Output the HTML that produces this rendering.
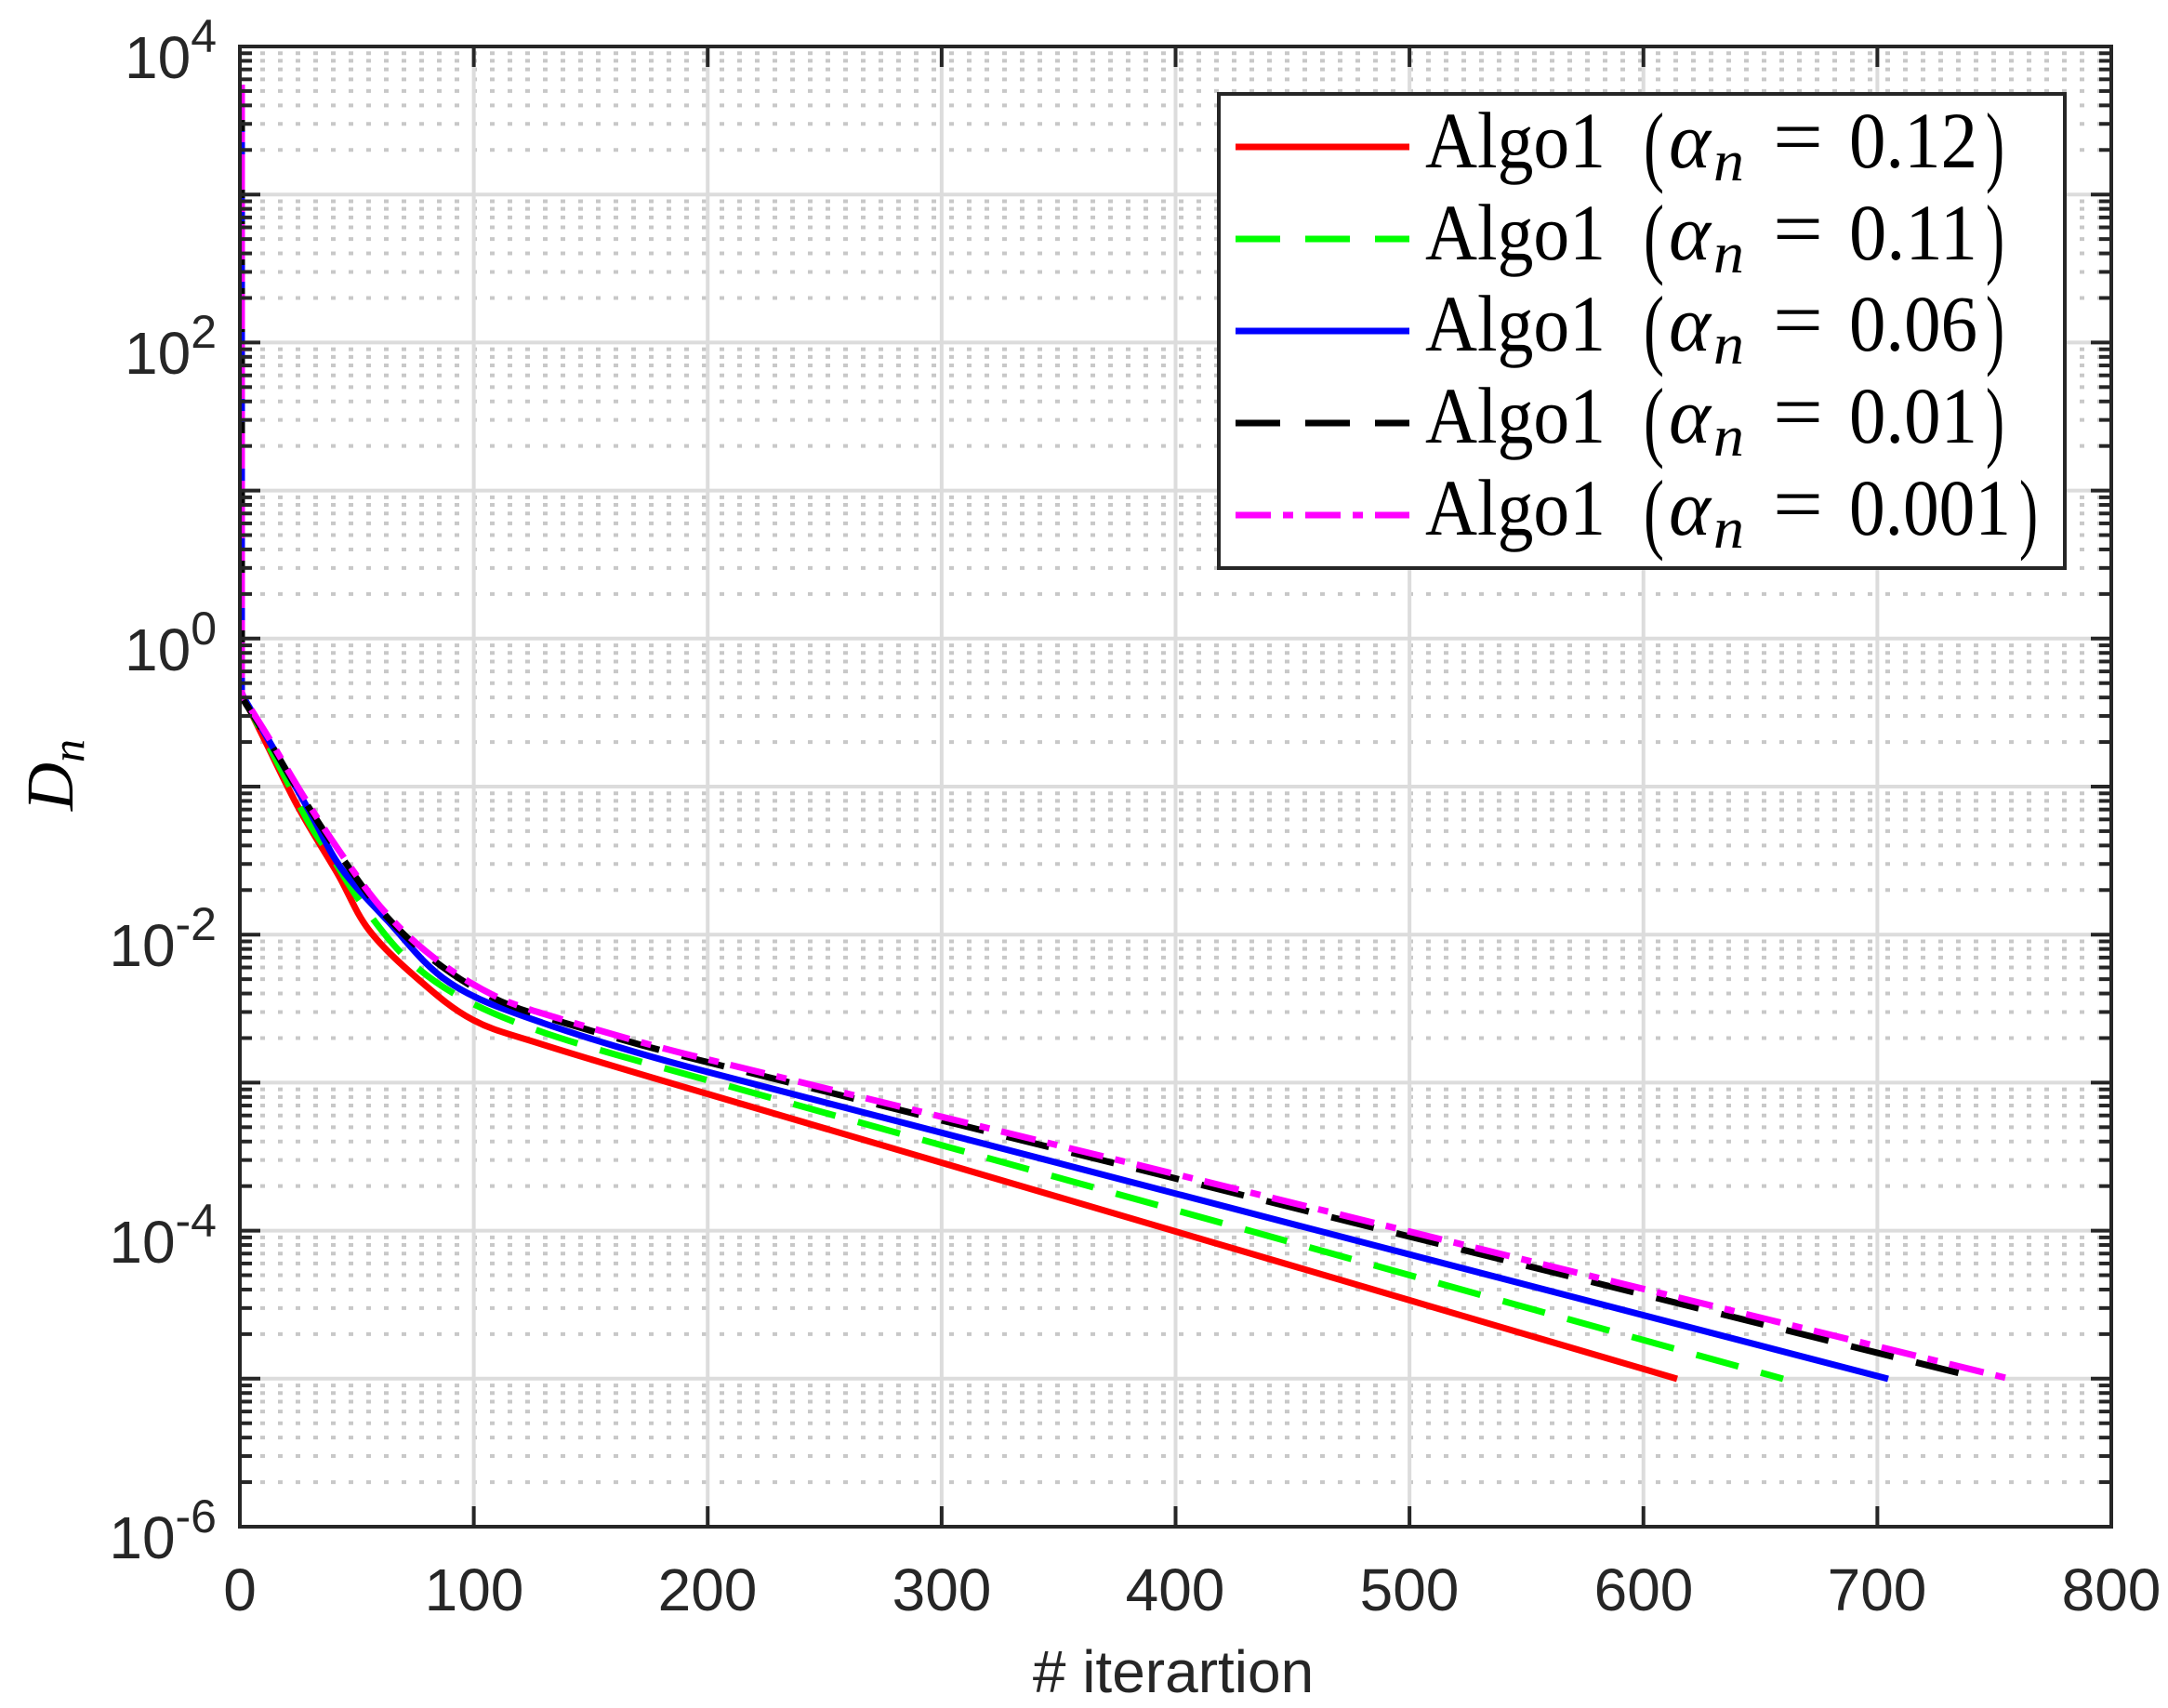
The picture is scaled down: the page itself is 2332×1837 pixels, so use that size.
<!DOCTYPE html>
<html><head><meta charset="utf-8">
<style>
html,body{margin:0;padding:0;background:#fff;}
svg{display:block;}
.tk{font-family:"Liberation Sans",Arial,sans-serif;font-size:64px;fill:#262626;}
.lg{font-family:"Liberation Serif","DejaVu Serif",serif;font-size:86px;fill:#000;}
</style></head>
<body>
<svg id="s" width="2332" height="1837" viewBox="0 0 2332 1837" xmlns="http://www.w3.org/2000/svg">
<rect width="2332" height="1837" fill="#fff"/>
<g id="grid"></g>
<g id="curves" fill="none" stroke-width="7" stroke-linejoin="round"></g>
<g id="axes"></g>
<g class="tk" text-anchor="end">
<text x="233" y="84">10<tspan dy="-28" font-size="50">4</tspan></text>
<text x="233" y="402">10<tspan dy="-28" font-size="50">2</tspan></text>
<text x="233" y="721">10<tspan dy="-28" font-size="50">0</tspan></text>
<text x="233" y="1039">10<tspan dy="-28" font-size="50">-2</tspan></text>
<text x="233" y="1358">10<tspan dy="-28" font-size="50">-4</tspan></text>
<text x="233" y="1676">10<tspan dy="-28" font-size="50">-6</tspan></text>
</g>
<g class="tk" text-anchor="middle">
<text x="258" y="1732">0</text>
<text x="510" y="1732">100</text>
<text x="761" y="1732">200</text>
<text x="1013" y="1732">300</text>
<text x="1264" y="1732">400</text>
<text x="1516" y="1732">500</text>
<text x="1768" y="1732">600</text>
<text x="2019" y="1732">700</text>
<text x="2271" y="1732">800</text>
</g>
<text class="tk" x="1262" y="1820" text-anchor="middle" font-size="66">#&#160;iterartion</text>
<text transform="translate(78,872) rotate(-90)" font-family="Liberation Serif,serif" font-style="italic" font-size="72" fill="#000">D<tspan font-size="50" dy="12">n</tspan></text>
<rect x="1311" y="101" width="910" height="510" fill="#fff" stroke="#262626" stroke-width="4"/>
<g stroke-width="7" fill="none">
<line x1="1329" y1="158" x2="1516" y2="158" stroke="#ff0000"/>
<line x1="1329" y1="257" x2="1516" y2="257" stroke="#00ff00" stroke-dasharray="48 27"/>
<line x1="1329" y1="356" x2="1516" y2="356" stroke="#0000ff"/>
<line x1="1329" y1="455" x2="1516" y2="455" stroke="#000" stroke-dasharray="48 27"/>
<line x1="1329" y1="554" x2="1516" y2="554" stroke="#ff00ff" stroke-dasharray="38 13 11 13"/>
</g>
<g class="lg" id="leg"></g>
</svg>
<script>
(function(){
var NS="http://www.w3.org/2000/svg";
function el(p,t,a){var e=document.createElementNS(NS,t);for(var k in a)e.setAttribute(k,a[k]);p.appendChild(e);return e;}
var L=258,R=2271,T=50,B=1642,dec=(B-T)/10;
function Y(l){return T+(4-l)*dec;}
function X(v){return L+v*(R-L)/800;}
var g=document.getElementById('grid');
for(var d=-6;d<4;d++){for(var m=2;m<=9;m++){var y=Y(d+Math.log10(m));
el(g,'line',{x1:280,y1:y,x2:R-4,y2:y,stroke:'#c8c8c8','stroke-width':4,'stroke-dasharray':'5 14'});}}
for(var d=-5;d<4;d++){var y=Y(d);el(g,'line',{x1:L,y1:y,x2:R,y2:y,stroke:'#dcdcdc','stroke-width':4});}
for(var v=100;v<800;v+=100){var x=X(v);el(g,'line',{x1:x,y1:T,x2:x,y2:B,stroke:'#dcdcdc','stroke-width':4});}
function cr(pts){var s='';for(var i=0;i<pts.length-1;i++){var p0=pts[Math.max(i-1,0)],p1=pts[i],p2=pts[i+1],p3=pts[Math.min(i+2,pts.length-1)];
var c1=[p1[0]+(p2[0]-p0[0])/6,p1[1]+(p2[1]-p0[1])/6],c2=[p2[0]-(p3[0]-p1[0])/6,p2[1]-(p3[1]-p1[1])/6];
s+=' C'+c1[0]+','+c1[1]+' '+c2[0]+','+c2[1]+' '+p2[0]+','+p2[1];}return s;}
var cg=document.getElementById('curves');
function curve(pts,end,col,dash,dy){dy=dy||0;
var p=pts.map(function(q){return [q[0],q[1]+dy];});
p.push([end[0],end[1]+dy]);
// catmull-rom through early points, with last (end) as tangent guide only
var d='M260,'+(91+dy)+' L260,745 L'+p[0][0]+','+p[0][1];
var s='';for(var i=0;i<p.length-2;i++){var p0=p[Math.max(i-1,0)],p1=p[i],p2=p[i+1],p3=p[i+2];
var f3=(i+2==p.length-1)?(p2[0]-p1[0])/(p3[0]-p2[0]):1;
var c1=[p1[0]+(p2[0]-p0[0])/6,p1[1]+(p2[1]-p0[1])/6];
var c2=(i+2==p.length-1)?[p2[0]-(p3[0]-p2[0])*f3/3,p2[1]-(p3[1]-p2[1])*f3/3]:[p2[0]-(p3[0]-p1[0])/6,p2[1]-(p3[1]-p1[1])/6];
s+=' C'+c1[0]+','+c1[1]+' '+c2[0]+','+c2[1]+' '+p2[0]+','+p2[1];}
d+=s+' L'+p[p.length-1][0]+','+p[p.length-1][1];
var a={d:d,stroke:col};if(dash)a['stroke-dasharray']=dash;el(cg,'path',a);}
curve([[262,750],[286.7,800],[321.7,870],[363.3,940],[396.7,1000],[450,1053.3],[508.3,1096.7],[583.3,1123.3],[750,1173.3]],[1804,1483],'#ff0000');
curve([[262,750],[300,823.3],[333.3,886.7],[360,926.7],[390,973.3],[436.7,1030],[496.7,1073.3],[583.3,1110],[706.7,1146.7]],[1918,1483],'#00ff00','47 25');
curve([[262,750],[300,815],[333.3,873.3],[366.7,933.3],[416.7,990],[483.3,1056.7],[583.3,1100],[750,1150]],[2031,1483],'#0000ff');
var bm=[[262,750],[290,795],[326.7,856.7],[368.3,920],[413.3,980],[466.7,1030],[530,1070],[600,1095],[743.3,1135]];
curve(bm,[2116,1476],'#000000','47 25',3);
curve(bm,[2162,1483],'#ff00ff','38 13 11 13',0);
var ax=document.getElementById('axes');
var c='#262626';
for(var d=-6;d<4;d++){for(var m=2;m<=9;m++){var y=Y(d+Math.log10(m));
el(ax,'line',{x1:L,y1:y,x2:L+13,y2:y,stroke:c,'stroke-width':4});el(ax,'line',{x1:R,y1:y,x2:R-13,y2:y,stroke:c,'stroke-width':4});}}
for(var d=-6;d<=4;d++){var y=Y(d);el(ax,'line',{x1:L,y1:y,x2:L+22,y2:y,stroke:c,'stroke-width':4});el(ax,'line',{x1:R,y1:y,x2:R-22,y2:y,stroke:c,'stroke-width':4});}
for(var v=0;v<=800;v+=100){var x=X(v);el(ax,'line',{x1:x,y1:T,x2:x,y2:T+22,stroke:c,'stroke-width':4});el(ax,'line',{x1:x,y1:B,x2:x,y2:B-22,stroke:c,'stroke-width':4});}
el(ax,'rect',{x:L,y:T,width:R-L,height:B-T,fill:'none',stroke:c,'stroke-width':4});
var lg=document.getElementById('leg');
var rows=[['0.12',2127,2136],['0.11',2127,2136],['0.06',2127,2136],['0.01',2127,2136],['0.001',2163,2172]];
var bl=[180,279,377,476,575];
function tx(x,y,w,s,extra){var t=el(lg,'text',Object.assign({x:x,y:y,textLength:w,lengthAdjust:'spacingAndGlyphs'},extra||{}));t.textContent=s;return t;}
rows.forEach(function(r,i){var y=bl[i];
tx(1533,y,194,'Algo1');tx(1768,y+8,22,'(',{'font-size':96});
tx(1795,y,45,'\u03B1',{'font-style':'italic'});tx(1843,y+14,33,'n',{'font-style':'italic','font-size':62});
tx(1907,y-4,54,'=');tx(1989,y,r[1]-1989,r[0]);tx(r[2],y+8,20,')',{'font-size':96});});
})();
</script>
</body></html>
